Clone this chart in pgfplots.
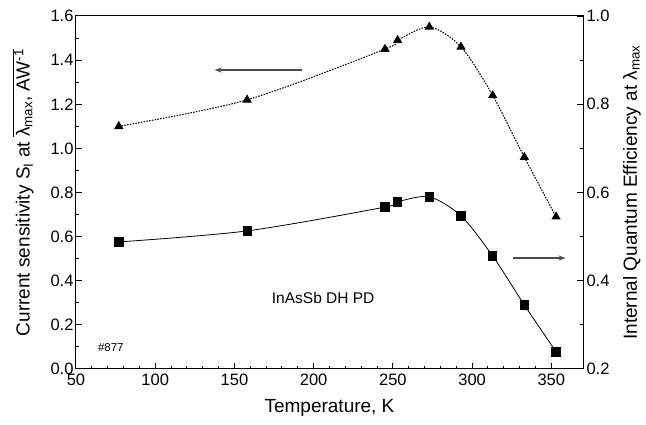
\documentclass[border=0pt]{standalone}
\usepackage{fontspec}
\setmainfont{Liberation Sans}
\usepackage{pgfplots}
\pgfplotsset{compat=1.18}
\usetikzlibrary{arrows.meta}

\begin{document}
\begin{tikzpicture}
\pgfplotsset{
  every axis/.append style={
    scale only axis, width=507pt, height=353pt,
    at={(0,0)}, anchor=south west,
    xmin=50, xmax=370,
    line width=1pt,
    tick align=inside,
    major tick length=6pt, minor tick length=3pt,
    every tick/.style={black, line width=1pt},
    /pgf/number format/assume math mode=true,
    tick label style={font=\fontsize{16.5}{19}\selectfont},
    label style={font=\fontsize{19}{22}\selectfont},
  }
}
\begin{axis}[
  xtick={50,100,...,350}, minor x tick num=4,
  ymin=0, ymax=1.6, ytick={0,0.2,...,1.6}, minor y tick num=1,
  xtick pos=bottom, ytick pos=left,
  yticklabel style={inner sep=2pt, /pgf/number format/.cd, fixed, fixed zerofill, precision=1},
  xticklabel style={inner sep=4.5pt},
  xlabel={Temperature, K},
  ylabel={Current sensitivity S\textsubscript{I} at $\overline{\mbox{λ\textsubscript{max}, AW\textsuperscript{-1}}}$},
  xlabel style={at={(axis description cs:0.5,0)}, anchor=center, yshift=-39pt},
  ylabel style={at={(axis description cs:0,0.5)}, anchor=center, yshift=53pt},
]
% current sensitivity (triangles)
\addplot[black, line width=1pt, dash pattern=on 1.6pt off 1.2pt, smooth, tension=0.5,
  mark=triangle*, mark size=4.4pt, mark options={solid}] coordinates {
  (77,1.10) (158,1.22) (245,1.45) (253,1.49) (273,1.55)
  (293,1.46) (313,1.24) (333,0.96) (353,0.69)
};
\draw[-{Stealth[length=7pt,width=5pt]}, gray!60!black, line width=1.2pt]
  (axis cs:192.5,1.355) -- (axis cs:137.5,1.355);
\draw[-{Stealth[length=7pt,width=5pt]}, gray!60!black, line width=1.2pt]
  (axis cs:326,0.503) -- (axis cs:359,0.503);
\node[font=\fontsize{15.5}{18}\selectfont] at (axis cs:206,0.322) {InAsSb DH PD};
\node[font=\fontsize{11.5}{13}\selectfont] at (axis cs:72,0.095) {\#877};
\end{axis}
\begin{axis}[
  axis x line=none, axis y line*=right,
  ymin=0.2, ymax=1.0, ytick={0.2,0.4,...,1.0}, minor y tick num=1,
  ytick pos=right,
  yticklabel style={inner sep=3pt, /pgf/number format/.cd, fixed, fixed zerofill, precision=1},
  ylabel={Internal Quantum Efficiency at λ\textsubscript{max}},
  ylabel style={at={(axis description cs:1,0.5)}, anchor=center, yshift=-49pt},
]
% internal quantum efficiency (squares)
\addplot[black, line width=0.8pt, smooth, tension=0.5,
  mark=square*, mark size=4.2pt] coordinates {
  (77,0.488) (158,0.513) (245,0.567) (253,0.579) (273,0.590)
  (293,0.547) (313,0.456) (333,0.345) (353,0.239)
};
\end{axis}
\pgfresetboundingbox
\useasboundingbox (-76pt,-56pt) rectangle (570pt,369pt);
\end{tikzpicture}
\end{document}
